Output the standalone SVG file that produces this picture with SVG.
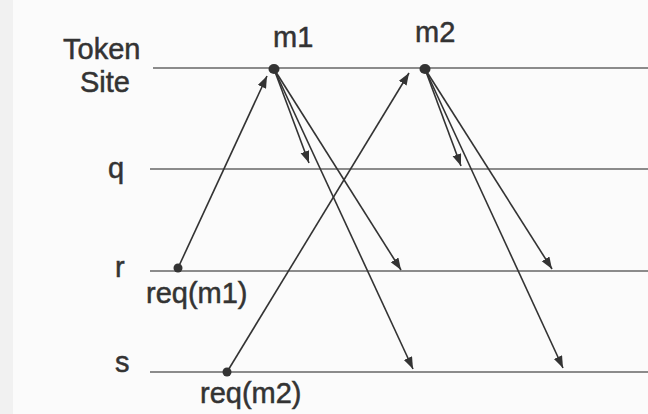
<svg xmlns="http://www.w3.org/2000/svg" width="648" height="414" viewBox="0 0 648 414">
<defs>
<style>
.lbl{font-family:"Liberation Sans",Arial,sans-serif;font-size:29px;fill:#333;stroke:#333;stroke-width:0.5}
.tl{stroke:#666;stroke-width:1.3;fill:none}
.msg{stroke:#333;stroke-width:1.6;fill:none;marker-end:url(#ah)}
.dot{fill:#333}
</style>
<marker id="ah" markerUnits="userSpaceOnUse" markerWidth="13" markerHeight="10" refX="12" refY="4.5" orient="auto">
<path d="M0,0 L12,4.5 L0,9 z" fill="#333"/>
</marker>
</defs>
<rect width="648" height="414" fill="#fbfbfb"/>
<rect width="13" height="414" fill="#f1f1f1"/>
<g id="token-site">
<line class="tl" x1="153" y1="68" x2="648" y2="68"/>
<text class="lbl" x="63" y="59">Token</text>
<text class="lbl" x="80" y="92">Site</text>
</g>
<g id="q">
<line class="tl" x1="150" y1="169" x2="648" y2="169"/>
<text class="lbl" x="108" y="178">q</text>
</g>
<g id="r">
<line class="tl" x1="150" y1="271" x2="648" y2="271"/>
<text class="lbl" x="115" y="277">r</text>
</g>
<g id="s">
<line class="tl" x1="150" y1="372" x2="648" y2="372"/>
<text class="lbl" x="115" y="372">s</text>
</g>
<g id="m1">
<ellipse class="dot" cx="274" cy="69" rx="5.5" ry="5"/>
<text class="lbl" x="273" y="47">m1</text>
</g>
<g id="m2">
<ellipse class="dot" cx="425" cy="69" rx="5.5" ry="5"/>
<text class="lbl" x="415" y="42">m2</text>
</g>
<g id="req-m1">
<circle class="dot" cx="178" cy="268" r="4.5"/>
<text class="lbl" x="146" y="303">req(m1)</text>
</g>
<g id="req-m2">
<circle class="dot" cx="227" cy="372" r="4.5"/>
<text class="lbl" x="200" y="403">req(m2)</text>
</g>
<g id="connectors">
<line class="msg" x1="178" y1="268" x2="267" y2="76"/>
<line class="msg" x1="227" y1="372" x2="409" y2="73"/>
<line class="msg" x1="274" y1="69" x2="309" y2="163"/>
<line class="msg" x1="274" y1="69" x2="401" y2="270"/>
<line class="msg" x1="274" y1="69" x2="413" y2="369"/>
<line class="msg" x1="425" y1="69" x2="461" y2="166"/>
<line class="msg" x1="425" y1="69" x2="552" y2="269"/>
<line class="msg" x1="425" y1="69" x2="563" y2="368"/>
</g>
</svg>
